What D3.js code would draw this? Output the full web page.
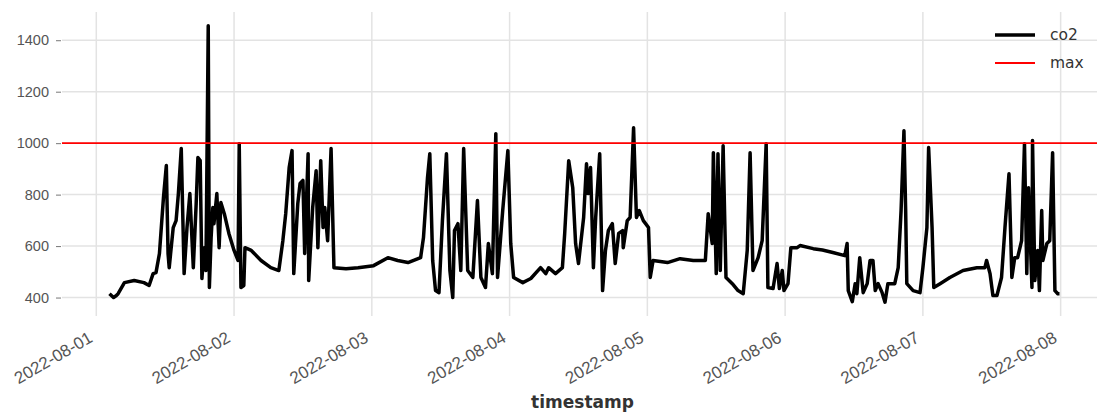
<!DOCTYPE html>
<html>
<head>
<meta charset="utf-8">
<script src="https://cdn.jsdelivr.net/npm/d3@7"></script>
<style>
	body { margin: 0; background: #fff; }
	svg { display: block; font-family: "DejaVu Sans", sans-serif; }
	.grid line { stroke: #e3e3e3; stroke-width: 1.5; }
	.tick text { fill: #555; }
</style>
</head>
<body>
<svg id="chart" width="1097" height="412"></svg>
<script>
// hours since 2022-08-01 00:00 and the co2 reading at that time
var hours = [
	2.3, 3.0, 3.5, 3.8, 4.9, 6.6, 8.3, 9.2, 9.9, 10.4, 11.0, 11.7, 12.2, 12.5, 12.7, 13.4, 13.9, 14.3, 14.8, 15.3,
	15.8, 16.3, 16.9, 17.4, 17.7, 18.1, 18.4, 18.8, 19.1, 19.5, 19.7, 20.0, 20.3, 20.5, 21.0, 21.4, 21.7, 22.3, 23.1, 24.0,
	24.7, 24.9, 25.2, 25.7, 25.9, 27.0, 28.7, 30.4, 31.8, 32.5, 33.0, 33.6, 34.1, 34.4, 35.1, 35.5, 36.0, 36.3, 36.9, 37.0,
	37.7, 38.3, 38.6, 39.1, 39.5, 39.8, 40.3, 40.9, 41.4, 43.5, 45.6, 48.3, 50.8, 52.5, 54.3, 56.5, 57.0, 57.7, 58.1, 58.6,
	59.1, 59.7, 60.3, 61.0, 61.6, 62.1, 62.4, 63.0, 63.5, 64.0, 64.7, 65.6, 66.4, 67.0, 67.8, 68.3, 69.0, 69.6, 69.9, 70.8,
	71.7, 72.2, 72.7, 74.3, 75.7, 77.4, 78.3, 78.8, 80.0, 81.2, 81.6, 82.3, 83.0, 83.5, 84.0, 84.9, 85.4, 85.7, 86.1, 86.6,
	87.0, 87.7, 88.2, 88.7, 89.2, 89.9, 90.4, 91.0, 91.7, 91.8, 92.5, 93.0, 93.6, 94.1, 94.6, 95.3, 96.2, 96.5, 97.0, 99.5,
	101.7, 104.0, 106.1, 106.6, 107.3, 107.5, 108.0, 108.3, 108.7, 109.2, 109.7, 110.8, 111.8, 112.7, 113.4, 113.9, 114.4, 115.3, 116.0, 116.7,
	117.0, 117.9, 118.6, 119.0, 119.5, 119.8, 120.5, 121.0, 122.1, 122.6, 124.9, 126.5, 128.3, 130.4, 130.8, 131.0, 131.7, 132.2, 132.5, 133.0,
	133.6, 134.3, 134.8, 135.3, 135.7, 136.2, 136.9, 137.4, 137.9, 139.1, 139.7, 140.2, 140.7, 141.0, 141.2, 142.3, 143.5, 144.0, 144.7, 145.0,
	145.6, 145.9, 147.0, 148.7, 151.0, 153.4, 154.8, 155.1, 155.7, 156.2, 156.9, 157.7, 158.3, 159.0, 159.5, 160.0, 160.5, 161.2, 161.7, 162.1,
	162.4, 163.0, 163.1, 163.5, 164.0, 164.3, 164.7, 164.9, 165.6, 166.1, 166.6, 167.0, 167.5, 167.8
];
var co2 = [
	415, 400, 408, 415, 458, 466, 458, 447, 493, 497, 571, 788, 913, 571, 516, 672, 699, 804, 979, 493,
	672, 804, 516, 765, 944, 932, 474, 594, 505, 1456, 439, 633, 750, 687, 804, 594, 769, 726, 649, 583,
	544, 998, 439, 447, 594, 583, 544, 516, 505, 621, 726, 905, 971, 493, 765, 843, 855, 571, 959, 466,
	750, 893, 594, 932, 672, 750, 621, 979, 516, 512, 516, 524, 555, 544, 536, 555, 633, 866, 959, 544,
	427, 419, 699, 959, 505, 400, 660, 687, 505, 979, 505, 478, 777, 478, 439, 610, 493, 1037, 478, 738,
	971, 610, 478, 458, 474, 516, 493, 516, 493, 516, 649, 932, 827, 610, 532, 711, 920, 804, 905, 516,
	711, 959, 427, 583, 660, 687, 532, 649, 660, 594, 699, 711, 1060, 711, 738, 699, 672, 478, 544, 536,
	551, 544, 544, 726, 610, 963, 493, 959, 505, 990, 478, 454, 427, 415, 583, 963, 505, 555, 621, 998,
	439, 435, 532, 435, 505, 427, 454, 594, 594, 602, 590, 585, 575, 563, 610, 427, 384, 454, 415, 555,
	419, 454, 544, 544, 427, 454, 419, 382, 454, 454, 516, 738, 1048, 738, 454, 427, 419, 516, 672, 983,
	672, 439, 454, 478, 505, 516, 516, 544, 493, 408, 408, 478, 672, 881, 478, 555, 555, 621, 998, 493,
	827, 439, 1010, 466, 583, 427, 738, 544, 610, 621, 963, 427, 415, 415
];
var maxLevel = 1000;
var seriesNames = ["co2", "max"];
var seriesColors = ["#000", "#ff0000"];
var yTicks = [400, 600, 800, 1000, 1200, 1400];
var dayLabels = ["2022-08-01", "2022-08-02", "2022-08-03", "2022-08-04", "2022-08-05", "2022-08-06", "2022-08-07", "2022-08-08"];
var xLabel = "timestamp";

var svg = d3.select("#chart"),
		margin = {top: 12, left: 62},
		width = 1045,
		height = 304,
		start = Date.UTC(2022, 7, 1);

var points = hours.map(function (h, i) {
	return {t: new Date(start + h * 3600e3), v: co2[i]};
});

// matplotlib style 5% margins around the data
var tExt = d3.extent(points, function (d) { return d.t; }),
		vExt = d3.extent(points, function (d) { return d.v; }),
		tPad = (tExt[1] - tExt[0]) * 0.05,
		vPad = (vExt[1] - vExt[0]) * 0.05;

var x = d3.scaleUtc()
	.domain([new Date(+tExt[0] - tPad), new Date(+tExt[1] + tPad)])
	.range([0, width]);
var y = d3.scaleLinear()
	.domain([vExt[0] - vPad, vExt[1] + vPad])
	.range([height, 0]);

var g = svg.append("g").attr("transform", "translate(" + margin.left + "," + margin.top + ")");

var dayTicks = dayLabels.map(function (s) { return new Date(s + "T00:00:00Z"); });

// grid
g.append("g").attr("class", "grid")
	.selectAll("line.h").data(yTicks).enter().append("line")
	.attr("x1", 0).attr("x2", width)
	.attr("y1", function (d) { return y(d); }).attr("y2", function (d) { return y(d); });
g.select(".grid")
	.selectAll("line.v").data(dayTicks).enter().append("line")
	.attr("x1", function (d) { return x(d); }).attr("x2", function (d) { return x(d); })
	.attr("y1", 0).attr("y2", height);

// y axis
var yAxis = g.append("g")
	.call(d3.axisLeft(y).tickValues(yTicks).tickSize(5).tickPadding(7).tickFormat(d3.format("d")));
yAxis.select(".domain").remove();
yAxis.selectAll(".tick line").attr("stroke", "#777").attr("transform", "translate(-1,0)");
yAxis.selectAll(".tick text").style("font-size", "14.5px").attr("x", -13);

// x axis, labels tilted like autofmt_xdate
var xAxis = g.append("g")
	.attr("transform", "translate(0," + height + ")")
	.call(d3.axisBottom(x).tickValues(dayTicks).tickSize(0).tickFormat(function (d, i) { return dayLabels[i]; }));
xAxis.select(".domain").remove();
xAxis.selectAll(".tick text")
	.style("font-size", "17px")
	.attr("text-anchor", "end")
	.attr("y", 0).attr("dy", 0)
	.attr("transform", "translate(-3,25) rotate(-30)");

g.append("text")
	.attr("x", width / 2 - 2)
	.attr("y", 396)
	.attr("text-anchor", "middle")
	.style("font-size", "17px")
	.style("font-weight", "bold")
	.attr("fill", "#333")
	.text(xLabel);

// co2 series
var line = d3.line()
	.x(function (d) { return x(d.t); })
	.y(function (d) { return y(d.v); });

g.append("path")
	.datum(points)
	.attr("d", line)
	.attr("fill", "none")
	.attr("stroke", seriesColors[0])
	.attr("stroke-width", 3.5)
	.attr("stroke-linejoin", "round");

// max threshold
g.append("line")
	.attr("x1", 0).attr("x2", width)
	.attr("y1", y(maxLevel)).attr("y2", y(maxLevel))
	.attr("stroke", seriesColors[1])
	.attr("stroke-width", 1.8);

// legend
var legend = svg.append("g").attr("transform", "translate(995,35)");
seriesNames.forEach(function (name, i) {
	var row = legend.append("g").attr("transform", "translate(0," + (i * 28) + ")");
	row.append("line")
		.attr("x1", 0).attr("x2", 40)
		.attr("stroke", seriesColors[i])
		.attr("stroke-width", i === 0 ? 3.5 : 1.8);
	row.append("text")
		.attr("x", 55).attr("y", 5)
		.style("font-size", "15.5px")
		.attr("fill", "#333")
		.text(name);
});
</script>
</body>
</html>
